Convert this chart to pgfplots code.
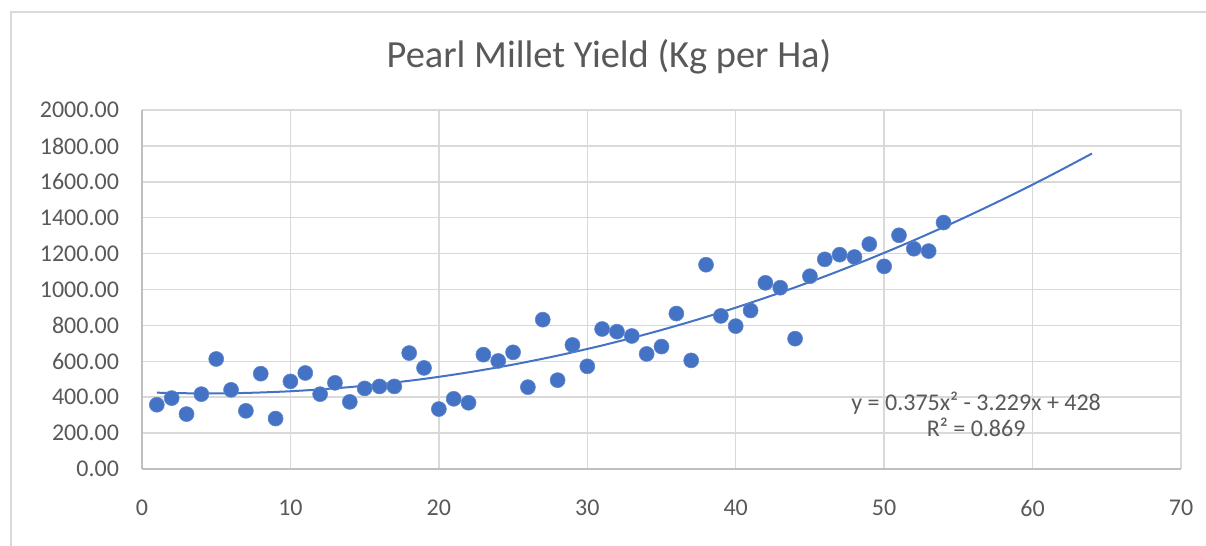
\documentclass[border=0pt]{standalone}
\usepackage{pgfplots}
\pgfplotsset{compat=1.18}
\usepackage{fontspec}
\setmainfont{Carlito}
\definecolor{txt}{HTML}{595959}
\definecolor{grd}{HTML}{D9D9D9}
\definecolor{axl}{HTML}{BFBFBF}
\definecolor{pts}{HTML}{4472C4}
\begin{document}
\begin{tikzpicture}
\clip (0,0) rectangle (603pt,273pt);
\fill[white] (0,0) rectangle (603pt,273pt);
\draw[grd, line width=1pt] (5.5pt,-5pt) -- (5.5pt,267pt) -- (610pt,267pt);
\node[txt, font=\fontsize{19.2}{23}\selectfont] at (304.5pt,244.5pt) {Pearl Millet Yield (Kg per Ha)};
\begin{axis}[
  at={(71pt,38.5pt)}, anchor=south west,
  width=519.5pt, height=179.5pt, scale only axis,
  xmin=0, xmax=70, ymin=0, ymax=2000,
  xtick={0,10,...,70}, ytick={0,200,...,2000},
  xticklabels={0,10,20,30,40,50,60,70},
  yticklabels={0.00,200.00,400.00,600.00,800.00,1000.00,1200.00,1400.00,1600.00,1800.00,2000.00},
  grid=major, major grid style={grd, line width=0.75pt},
  axis x line*=bottom, axis y line*=left,
  axis line style={axl, line width=0.9pt, -},
  major tick length=0pt,
  tick label style={txt, font=\fontsize{12}{14}\selectfont},
  yticklabel style={xshift=-8pt},
  xticklabel style={yshift=-12pt},
  clip=false,
]
\addplot[pts, line width=1pt, smooth, no marks] coordinates {
(1,425.146) (4,421.084) (7,423.772) (10,433.21) (13,449.398) (16,472.336)
(19,502.024) (22,538.462) (25,581.65) (28,631.588) (31,688.276) (34,751.714)
(37,821.902) (40,898.84) (43,982.528) (46,1072.966) (49,1170.154) (52,1274.092)
(55,1384.78) (58,1502.218) (61,1626.406) (64,1757.344)
};
\addplot[only marks, mark=*, mark size=3.75pt, mark options={fill=pts, draw=pts!85!white, line width=0.3pt}] coordinates {
(1,358) (2,395) (3,306) (4,417) (5,613) (6,441) (7,324) (8,531) (9,281) (10,488)
(11,535) (12,417) (13,480) (14,374) (15,449) (16,460) (17,460) (18,646) (19,563) (20,334)
(21,391) (22,369) (23,637) (24,602) (25,650) (26,456) (27,832) (28,495) (29,691) (30,572)
(31,780) (32,765) (33,741) (34,641) (35,682) (36,866) (37,605) (38,1138) (39,853) (40,796)
(41,883) (42,1037) (43,1010) (44,726) (45,1074) (46,1168) (47,1194) (48,1181) (49,1253) (50,1129)
(51,1302) (52,1227) (53,1214) (54,1373)
};
\node[txt, font=\fontsize{12}{13}\selectfont, align=center] at (axis cs:56.2,302) {y = 0.375x² - 3.229x + 428\\R² = 0.869};
\end{axis}
\end{tikzpicture}
\end{document}
